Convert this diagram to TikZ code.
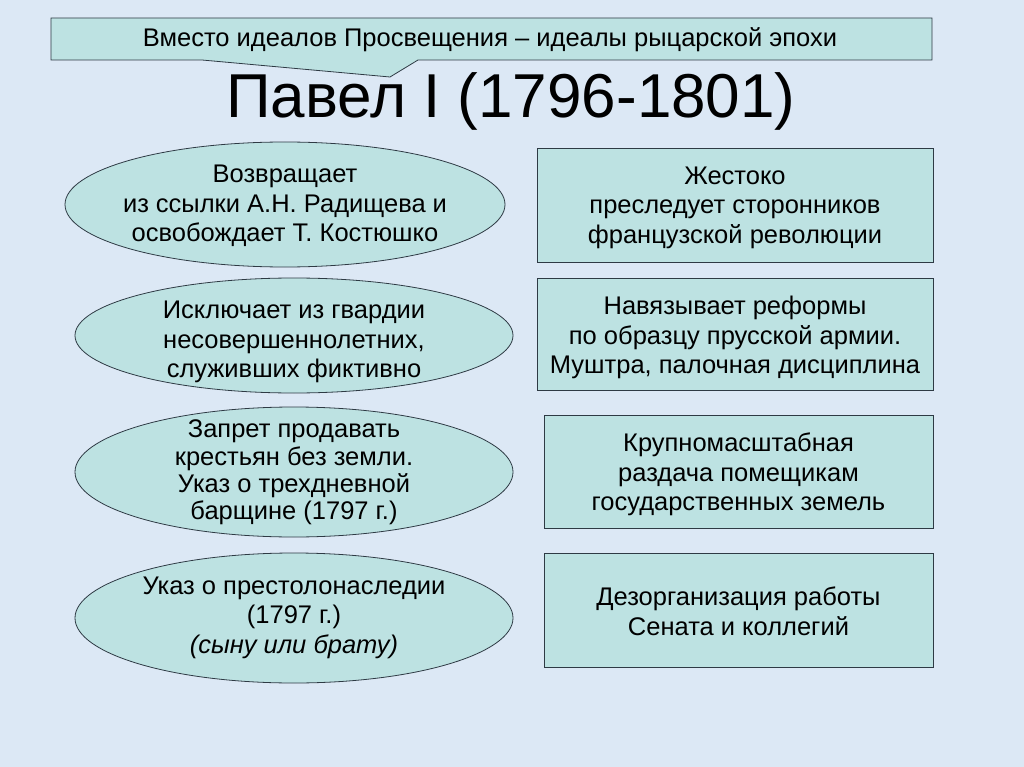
\documentclass[tikz,border=0pt]{standalone}
\usepackage{fontspec}
\setmainfont{Liberation Sans}
\usetikzlibrary{shapes.geometric}
\definecolor{bg}{HTML}{DCE8F5}
\definecolor{boxfill}{HTML}{BDE2E2}
\definecolor{edgecol}{HTML}{2E3A44}
\begin{document}
\begin{tikzpicture}[x=1pt,y=-1pt,
  bodytext/.style={font=\fontsize{25.5}{29.5}\selectfont, align=center, text=black, inner sep=0pt},
  ell/.style={ellipse, draw=edgecol, fill=boxfill, line width=0.8pt, inner sep=0pt},
  rbox/.style={rectangle, draw=edgecol, fill=boxfill, line width=0.8pt, inner sep=0pt},
  callout/.style={draw=edgecol, fill=boxfill, line width=0.8pt}]
\fill[bg] (0,0) rectangle (1024,767);
\useasboundingbox (0,0) rectangle (1024,767);
% banner callout
\path[callout] (51,18) -- (932,18) -- (932,60) -- (418,60) -- (390,77) -- (202,60) -- (51,60) -- cycle;
\node[font=\fontsize{25.5}{29}\selectfont, anchor=base] (banner) at (490,47) {Вместо идеалов Просвещения – идеалы рыцарской эпохи};
% title
\node[font=\fontsize{62}{70}\selectfont, anchor=base] (title) at (511,118) {Павел I (1796-1801)};
% ellipses
\node[ell, minimum width=440pt, minimum height=125pt] (e1) at (285,204.5) {};
\node[ell, minimum width=438pt, minimum height=115pt] (e2) at (294,335.5) {};
\node[ell, minimum width=438pt, minimum height=130pt] (e3) at (294,472) {};
\node[ell, minimum width=438pt, minimum height=130pt] (e4) at (294,618) {};
% rectangles
\node[rbox, minimum width=396pt, minimum height=114pt] (r1) at (735,205) {};
\node[rbox, minimum width=396pt, minimum height=112pt] (r2) at (735,334) {};
\node[rbox, minimum width=389pt, minimum height=113pt] (r3) at (738.5,471.5) {};
\node[rbox, minimum width=389pt, minimum height=114pt] (r4) at (738.5,610) {};
% texts
\node[bodytext] (t1) at (285,206) {Возвращает\\из ссылки А.Н. Радищева и\\освобождает Т. Костюшко};
\node[bodytext] (t2) at (294,342) {Исключает из гвардии\\несовершеннолетних,\\служивших фиктивно};
\node[bodytext, font=\fontsize{25.5}{27.3}\selectfont] (t3) at (294,472.5) {Запрет продавать\\крестьян без земли.\\Указ о трехдневной\\барщине (1797 г.)};
\node[bodytext] (t4) at (294,617.5) {Указ о престолонаследии\\(1797 г.)\\\textit{(сыну или брату)}};
\node[bodytext] (u1) at (735,207.5) {Жестоко\\преследует сторонников\\французской революции};
\node[bodytext] (u2) at (735,337.5) {Навязывает реформы\\по образцу прусской армии.\\Муштра, палочная дисциплина};
\node[bodytext] (u3) at (738.5,474.5) {Крупномасштабная\\раздача помещикам\\государственных земель};
\node[bodytext] (u4) at (738.5,611.5) {Дезорганизация работы\\Сената и коллегий};
\end{tikzpicture}
\end{document}
